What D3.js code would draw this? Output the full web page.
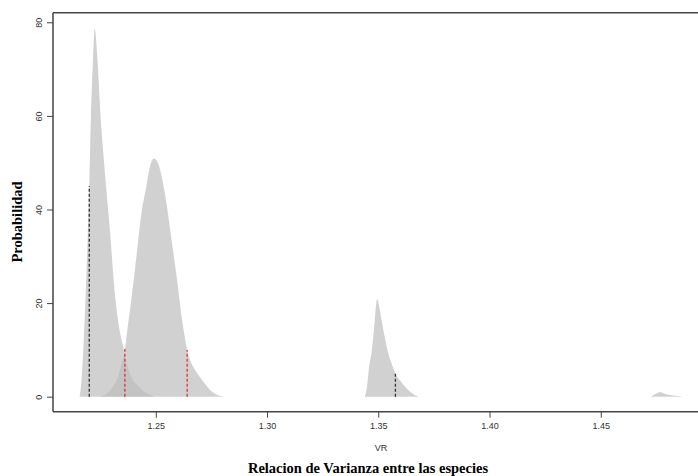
<!DOCTYPE html>
<html>
<head>
<meta charset="utf-8">
<script src="https://cdn.jsdelivr.net/npm/d3@7"></script>
<style>
  body { margin: 0; background: #fff; }
  .tick text { font-family: "Liberation Sans", Arial, sans-serif; font-size: 9px; fill: #333; }
  .tick line { stroke: #444; }
  .domain { display: none; }
</style>
</head>
<body>
<div id="chart"></div>
<script>
//Densities: VR values and heights for each curve
var vrTall = [1.2158, 1.2167, 1.2176, 1.2185, 1.2194, 1.2201, 1.2208, 1.2217, 1.2226, 1.2235, 1.2253, 1.2271, 1.2293, 1.2316, 1.2338, 1.2352, 1.2370, 1.2392, 1.2415, 1.2451, 1.2496]
var densTall = [0, 4, 12, 22, 34, 45, 59, 71, 78.6, 74, 59, 48, 36, 22, 14, 11, 7, 4, 2.6, 1, 0]

var vrBroad = [1.2248, 1.2280, 1.2302, 1.2325, 1.2343, 1.2361, 1.2374, 1.2388, 1.2406, 1.2421, 1.2435, 1.2458, 1.2473, 1.2491, 1.2509, 1.2531, 1.2549, 1.2565, 1.2581, 1.2597, 1.2612, 1.2626, 1.2641, 1.2657, 1.2675, 1.2698, 1.2720, 1.2743, 1.2770, 1.2806]
var densBroad = [0, 0.6, 1.8, 3.6, 6.5, 10, 15, 20, 27, 33.5, 39, 45, 49, 50.9, 50, 46, 41, 35.5, 30, 24.5, 18.5, 14, 10, 7.5, 5.8, 4.2, 2.8, 1.5, 0.5, 0]

var vrThird = [1.3440, 1.3449, 1.3458, 1.3470, 1.3480, 1.3489, 1.3495, 1.3503, 1.3516, 1.3530, 1.3543, 1.3557, 1.3575, 1.3597, 1.3620, 1.3642, 1.3665, 1.3683]
var densThird = [0, 2, 6, 9.6, 14, 19, 20.9, 19.5, 16, 12.5, 9.6, 7.5, 5.1, 3.5, 2.2, 1.1, 0.3, 0]

var vrSmall = [1.4726, 1.4748, 1.4766, 1.4784, 1.4811, 1.4856, 1.4870]
var densSmall = [0, 0.6, 1.0, 0.7, 0.35, 0.1, 0]

//Dashed markers: position, height and colour
var markerVR = [1.2201, 1.2361, 1.2641, 1.3577]
var markerHeight = [45, 10.2, 10, 5]
var markerColor = ["#333333", "#e0303a", "#e0303a", "#333333"]

var xTicks = [1.25, 1.30, 1.35, 1.40, 1.45]
var yTicks = [0, 20, 40, 60, 80]

var width = 698
var height = 476

var margin = {
  top: 12.7,
  left: 53,
  right: -11,
  bottom: 64.3
}

var svg = d3.select("#chart")
  .append("svg")
  .attr("width", width)
  .attr("height", height)

var plotW = width - margin.left - margin.right
var plotH = height - margin.top - margin.bottom

var g = svg.append("g")
  .attr("transform", "translate(" + margin.left + "," + margin.top + ")")

//Scales
var xScale = d3.scaleLinear()
  .domain([1.2038, 1.4937 + 11 / 2224])
  .range([0, plotW])

var yScale = d3.scaleLinear()
  .domain([-3.21, 82.05])
  .range([plotH, 0])

//Build each curve as a list of points
function toPoints(vr, dens) {
  var pts = []
  for (i = 0; i < vr.length; i++) {
    pts.push({"VR": vr[i], "D": dens[i]})
  }
  return pts
}

var curves = [
  toPoints(vrTall, densTall),
  toPoints(vrBroad, densBroad),
  toPoints(vrThird, densThird),
  toPoints(vrSmall, densSmall)
]

var area = d3.area()
  .x(function(d) { return xScale(d.VR) })
  .y0(yScale(0))
  .y1(function(d) { return yScale(d.D) })
  .curve(d3.curveMonotoneX)

g.selectAll(".dens")
  .data(curves)
  .enter()
  .append("path")
  .attr("class", "dens")
  .attr("d", area)
  .attr("fill", "#bebebe")
  .attr("fill-opacity", 0.7)

//Dashed vertical lines
g.selectAll(".marker")
  .data(markerVR)
  .enter()
  .append("line")
  .attr("x1", function(d) { return xScale(d) })
  .attr("x2", function(d) { return xScale(d) })
  .attr("y1", yScale(0))
  .attr("y2", function(d, i) { return yScale(markerHeight[i]) })
  .attr("stroke", function(d, i) { return markerColor[i] })
  .attr("stroke-width", 1.3)
  .attr("stroke-dasharray", "3,2")

//Axes
var xAxis = d3.axisBottom(xScale)
  .tickValues(xTicks)
  .tickSize(6)
  .tickPadding(5)
  .tickFormat(d3.format(".2f"))

var yAxis = d3.axisLeft(yScale)
  .tickValues(yTicks)
  .tickSize(6)
  .tickPadding(4)

g.append("g")
  .attr("class", "x axis")
  .attr("transform", "translate(0," + plotH + ")")
  .call(xAxis)

var yG = g.append("g")
  .attr("class", "y axis")
  .call(yAxis)

yG.selectAll(".tick text")
  .attr("transform", "rotate(-90)")
  .attr("x", 0)
  .attr("y", -14)
  .attr("dy", "0.32em")
  .style("text-anchor", "middle")

//Box (top, left and bottom, the right one is off the picture)
var frame = g.append("g")
frame.append("line").attr("x1", 0).attr("x2", plotW).attr("y1", 0).attr("y2", 0)
frame.append("line").attr("x1", 0).attr("x2", 0).attr("y1", 0).attr("y2", plotH)
frame.append("line").attr("x1", 0).attr("x2", plotW).attr("y1", plotH).attr("y2", plotH)
frame.selectAll("line")
  .attr("stroke", "#444")
  .attr("stroke-width", 1.5)

//Labels
svg.append("text")
  .attr("x", 381)
  .attr("y", 451)
  .attr("text-anchor", "middle")
  .style("font-family", "Liberation Sans, Arial, sans-serif")
  .style("font-size", "9px")
  .style("fill", "#333")
  .text("VR")

svg.append("text")
  .attr("x", 368)
  .attr("y", 473)
  .attr("text-anchor", "middle")
  .style("font-family", "Liberation Serif, Times New Roman, serif")
  .style("font-weight", "bold")
  .style("font-size", "14.5px")
  .text("Relacion de Varianza entre las especies")

svg.append("text")
  .attr("transform", "translate(22,222) rotate(-90)")
  .attr("text-anchor", "middle")
  .style("font-family", "Liberation Serif, Times New Roman, serif")
  .style("font-weight", "bold")
  .style("font-size", "14.5px")
  .text("Probabilidad")
</script>
</body>
</html>
